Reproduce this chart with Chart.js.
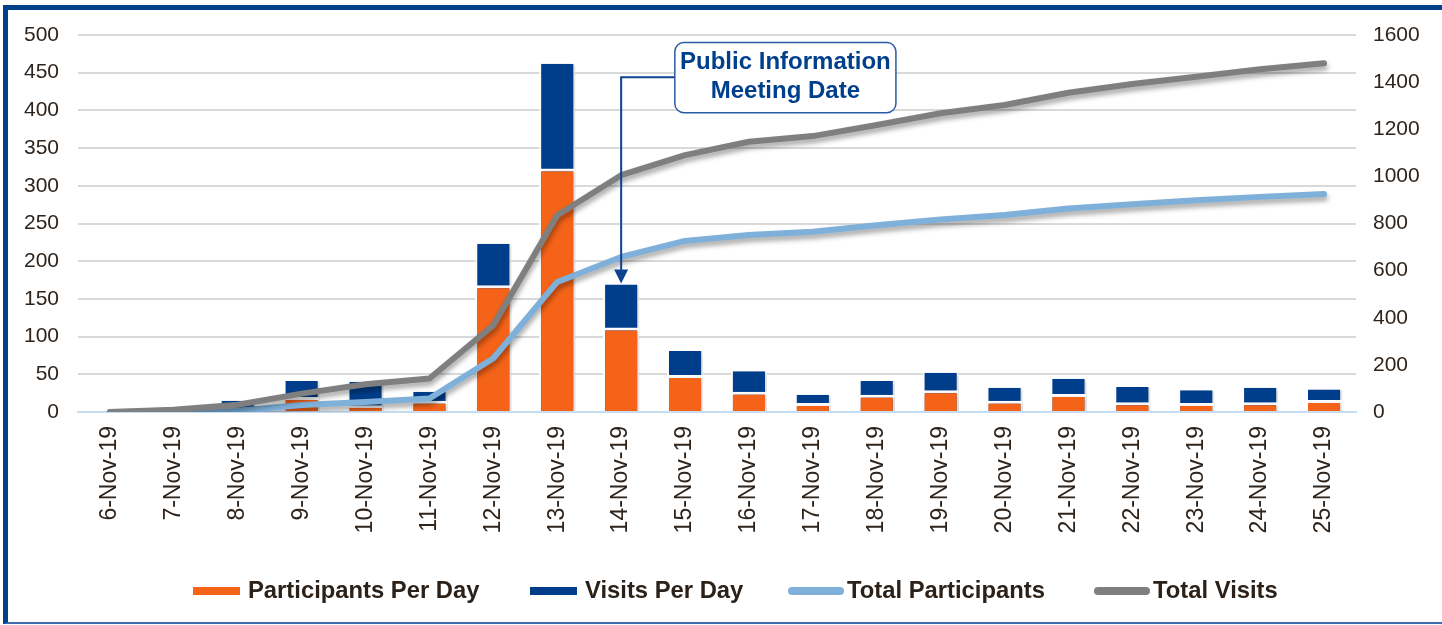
<!DOCTYPE html>
<html>
<head>
<meta charset="utf-8">
<script src="https://cdn.jsdelivr.net/npm/chart.js@4.4.1/dist/chart.umd.min.js"></script>
<style>
  html, body { margin: 0; padding: 0; background: #fff; overflow: hidden; }
  #wrap { position: relative; width: 1442px; height: 625px; }
  #frame {
    position: absolute; left: 3px; top: 5px; width: 1460px; height: 612px;
    border-left: 5px solid #02408b; border-top: 5px solid #02408b; border-bottom: 2px solid #3d6db0;
    pointer-events: none;
  }
  #legend {
    position: absolute; left: 0; top: 576px; width: 1442px; height: 28px;
    font-family: "Liberation Sans", Arial, sans-serif; font-weight: bold; font-size: 23.8px; color: #2b2118;
  }
  .item { position: absolute; top: 0; height: 28px; line-height: 28px; white-space: nowrap; }
  .sw { display: inline-block; width: 47px; height: 8px; vertical-align: middle; margin-right: 8px; position: relative; top: -1px; }
</style>
</head>
<body>
<div id="wrap">
  <canvas id="visitChart" width="1442" height="625"></canvas>
  <div id="frame"></div>
  <div id="legend"></div>
</div>
<script>
// ---- data ----
const labels = ['6-Nov-19', '7-Nov-19', '8-Nov-19', '9-Nov-19', '10-Nov-19', '11-Nov-19', '12-Nov-19',
  '13-Nov-19', '14-Nov-19', '15-Nov-19', '16-Nov-19', '17-Nov-19', '18-Nov-19', '19-Nov-19',
  '20-Nov-19', '21-Nov-19', '22-Nov-19', '23-Nov-19', '24-Nov-19', '25-Nov-19'];
const participantsPerDay = [0, 0, 3, 20, 9, 15, 168, 323, 112, 49, 27, 12, 23, 29, 15, 24, 13, 12, 13, 16];
const visitsPerDay = [0, 0, 15, 41, 40, 27, 223, 462, 169, 81, 54, 23, 41, 52, 32, 44, 33, 29, 32, 30];
const totalParticipants = [0, 1, 5, 30, 42, 57, 228, 552, 658, 726, 751, 765, 793, 817, 836, 864, 882, 899, 913, 925];
const totalVisits = [0, 10, 31, 78, 118, 142, 368, 835, 1005, 1090, 1147, 1171, 1218, 1268, 1303, 1355, 1392, 1423, 1455, 1480];

const leftTicks = { min: 0, max: 500, step: 50 };
const rightTicks = { min: 0, max: 1600, step: 200 };

const noteLines = ['Public Information', 'Meeting Date'];
const noteDay = '14-Nov-19';

const FONT = '"Liberation Sans", Arial, sans-serif';
const ORANGE = '#f46318';
const BLUE = '#003e8b';
const LIGHTBLUE = '#7eb0d9';
const GRAY = '#7f7f7f';

// soft drop shadow under the lines and bars
const shadowPlugin = {
  id: 'shadows',
  beforeDatasetDraw(chart, args) {
    const ctx = chart.ctx;
    ctx.save();
    if (args.meta.type === 'line') {
      ctx.shadowColor = 'rgba(0,0,0,0.35)';
      ctx.shadowBlur = 5;
      ctx.shadowOffsetX = 1;
      ctx.shadowOffsetY = 4;
    } else {
      ctx.shadowColor = 'rgba(0,0,0,0.18)';
      ctx.shadowBlur = 4;
      ctx.shadowOffsetX = 2;
      ctx.shadowOffsetY = 1;
    }
  },
  afterDatasetDraw(chart) {
    chart.ctx.restore();
  }
};

// callout box + arrow pointing at the meeting date bar
const notePlugin = {
  id: 'note',
  afterDatasetsDraw(chart) {
    const ctx = chart.ctx;
    const x = chart.scales.x, y = chart.scales.y;
    const idx = labels.indexOf(noteDay);
    const ax = x.getPixelForValue(idx);
    const tipY = y.getPixelForValue(visitsPerDay[idx]) - 1;
    const boxL = x.getPixelForValue(idx + 0.84), boxR = x.getPixelForValue(idx + 4.3);
    const boxT = y.getPixelForValue(490), boxB = y.getPixelForValue(397);
    const lineY = y.getPixelForValue(444);

    ctx.save();
    ctx.strokeStyle = '#0d4391';
    ctx.lineWidth = 2;
    ctx.beginPath();
    ctx.moveTo(boxL, lineY);
    ctx.lineTo(ax, lineY);
    ctx.lineTo(ax, tipY - 12);
    ctx.stroke();
    ctx.fillStyle = '#0d4391';
    ctx.beginPath();
    ctx.moveTo(ax - 7, tipY - 14);
    ctx.lineTo(ax + 7, tipY - 14);
    ctx.lineTo(ax, tipY);
    ctx.closePath();
    ctx.fill();

    ctx.fillStyle = '#fff';
    ctx.strokeStyle = '#2a5ba6';
    ctx.lineWidth = 1.5;
    ctx.beginPath();
    ctx.roundRect(boxL, boxT, boxR - boxL, boxB - boxT, 9);
    ctx.fill();
    ctx.stroke();

    ctx.fillStyle = '#003f8c';
    ctx.font = 'bold 24px ' + FONT;
    ctx.textAlign = 'center';
    ctx.textBaseline = 'middle';
    const cx = (boxL + boxR) / 2;
    ctx.fillText(noteLines[0], cx, boxT + 20);
    ctx.fillText(noteLines[1], cx, boxT + 49);
    ctx.restore();
  }
};

const ctx = document.getElementById('visitChart').getContext('2d');
const chart = new Chart(ctx, {
  type: 'bar',
  data: {
    labels: labels,
    datasets: [
      {
        label: 'Participants Per Day',
        data: participantsPerDay,
        backgroundColor: ORANGE,
        borderColor: '#ffffff',
        borderWidth: { top: 3, left: 2, right: 2, bottom: 0 },
        borderSkipped: false,
        barPercentage: 0.565,
        categoryPercentage: 1,
        yAxisID: 'y',
        order: 2
      },
      {
        label: 'Visits Per Day',
        data: visitsPerDay,
        backgroundColor: BLUE,
        borderColor: '#ffffff',
        borderWidth: { top: 0, left: 2, right: 2, bottom: 0 },
        borderSkipped: false,
        barPercentage: 0.565,
        categoryPercentage: 1,
        yAxisID: 'y',
        order: 3
      },
      {
        type: 'line',
        label: 'Total Participants',
        data: totalParticipants,
        borderColor: LIGHTBLUE,
        backgroundColor: LIGHTBLUE,
        borderWidth: 6,
        borderCapStyle: 'round',
        borderJoinStyle: 'round',
        pointRadius: 0,
        tension: 0,
        yAxisID: 'y1',
        order: 1
      },
      {
        type: 'line',
        label: 'Total Visits',
        data: totalVisits,
        borderColor: GRAY,
        backgroundColor: GRAY,
        borderWidth: 6,
        borderCapStyle: 'round',
        borderJoinStyle: 'round',
        pointRadius: 0,
        tension: 0,
        yAxisID: 'y1',
        order: 0
      }
    ]
  },
  options: {
    responsive: false,
    animation: false,
    layout: { padding: { top: 35, left: 0, right: 0, bottom: 0 } },
    plugins: {
      legend: { display: false },
      tooltip: { enabled: false }
    },
    scales: {
      x: {
        stacked: true,
        grid: { display: false, drawTicks: false },
        border: { display: true, color: '#c5dcf1', width: 2 },
        ticks: {
          color: '#2f241c',
          font: { family: FONT, size: 23 },
          maxRotation: 90,
          minRotation: 90,
          padding: 14,
          autoSkip: false
        },
        afterFit(scale) { scale.height = 625 - 412; }
      },
      y: {
        position: 'left',
        min: leftTicks.min,
        max: leftTicks.max,
        grid: {
          drawTicks: false,
          lineWidth: 2,
          color: (c) => c.tick.value === 0 ? '#c5dcf1' : '#d9d9d9'
        },
        border: { display: false },
        ticks: {
          stepSize: leftTicks.step,
          color: '#2f241c',
          font: { family: FONT, size: 21 },
          padding: 19
        },
        afterFit(scale) { scale.width = 78; }
      },
      y1: {
        position: 'right',
        min: rightTicks.min,
        max: rightTicks.max,
        grid: { drawOnChartArea: false, drawTicks: false },
        border: { display: false },
        ticks: {
          stepSize: rightTicks.step,
          color: '#2f241c',
          font: { family: FONT, size: 21 },
          padding: 17,
          callback: (v) => String(v)
        },
        afterFit(scale) { scale.width = 86; }
      }
    }
  },
  plugins: [shadowPlugin, notePlugin]
});

// legend built from the chart's datasets
const legendPos = [193, 530, 788, 1094];
const legendEl = document.getElementById('legend');
chart.data.datasets.forEach((ds, i) => {
  const item = document.createElement('div');
  item.className = 'item';
  item.style.left = legendPos[i] + 'px';
  const sw = document.createElement('span');
  sw.className = 'sw';
  sw.style.background = ds.type === 'line' ? ds.borderColor : ds.backgroundColor;
  if (ds.type === 'line') { sw.style.borderRadius = '4px'; sw.style.width = '56px'; sw.style.marginRight = '3px'; }
  item.appendChild(sw);
  item.appendChild(document.createTextNode(ds.label));
  legendEl.appendChild(item);
});
</script>
</body>
</html>
